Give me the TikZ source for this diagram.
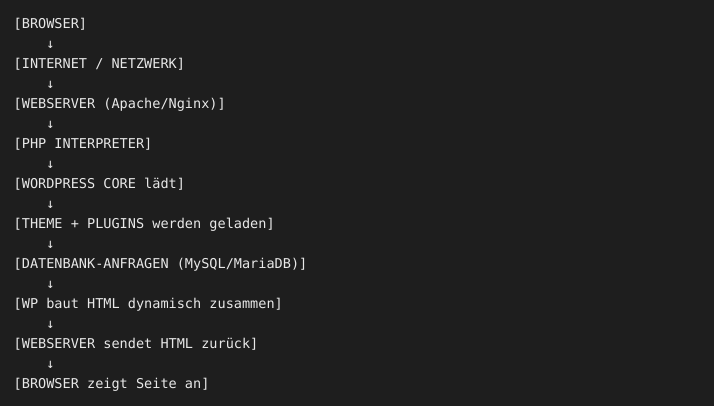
\documentclass[tikz,border=0pt]{standalone}
\usepackage{fontspec}
\setmonofont{DejaVu Sans Mono}
\definecolor{bg}{HTML}{1E1E1E}
\definecolor{fg}{HTML}{E8E8E8}
\begin{document}
\begin{tikzpicture}[x=1bp,y=-1bp,
  line/.style={anchor=base west,inner sep=0pt,text=fg,font=\ttfamily\fontsize{13.6}{16}\selectfont},
]
\fill[bg] (0,0) rectangle (714,406);
\useasboundingbox (0,0) rectangle (714,406);
\foreach \i/\t in {0/{[BROWSER]},1/{[INTERNET / NETZWERK]},2/{[WEBSERVER (Apache/Nginx)]},3/{[PHP INTERPRETER]},4/{[WORDPRESS CORE lädt]},5/{[THEME + PLUGINS werden geladen]},6/{[DATENBANK-ANFRAGEN (MySQL/MariaDB)]},7/{[WP baut HTML dynamisch zusammen]},8/{[WEBSERVER sendet HTML zurück]},9/{[BROWSER zeigt Seite an]}}{
  \node[line] (l\i) at (13.5,{28.8+40*\i}) {\t};
}
\foreach \i in {0,...,8}{
  \node[line] (a\i) at (46.3,{48.8+40*\i}) {↓};
}
\end{tikzpicture}
\end{document}
